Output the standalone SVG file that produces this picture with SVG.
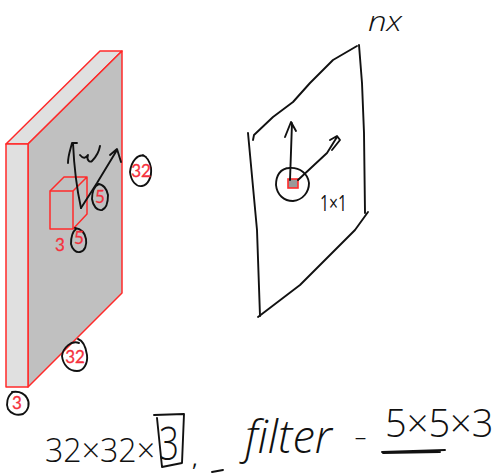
<svg xmlns="http://www.w3.org/2000/svg" width="495" height="473" viewBox="0 0 495 473">
<style>
.r{stroke:#ff2a2a;stroke-width:1.5;stroke-linejoin:round}
.ink{fill:none;stroke:#111;stroke-width:1.9;stroke-linecap:round;stroke-linejoin:round}
.lab{font-family:Lato,"Open Sans",sans-serif;font-size:17px;font-weight:400;fill:#f5303c;stroke:#f5303c;stroke-width:.3;text-anchor:middle}
.hand{font-family:"Open Sans","Liberation Sans",sans-serif;font-weight:300;fill:#111}
.reg{font-family:"Open Sans","Liberation Sans",sans-serif;font-weight:400;fill:#111}
.scr{font-family:"Open Sans","Liberation Sans",sans-serif;font-weight:300;font-style:italic;fill:#111}
</style>
<rect width="495" height="473" fill="#fff"/>
<g id="volume">
<polygon class="r" fill="#e0e0e0" points="6,144 28,144 122,51 100,51"/>
<polygon class="r" fill="#c0c0c0" points="28,144 122,51 122,293 28,387"/>
<rect class="r" x="6" y="144" width="22" height="243" fill="#e0e0e0"/>
</g>
<g id="filter-cube" fill="none">
<rect class="r" x="50" y="191" width="23" height="38"/>
<path class="r" d="M50 191L64 177H87L73 191M87 177V214L73 229"/>
</g>
<g id="output-sheet">
<path class="ink" d="M253 140L254 135L273 117L293 102L310 83L333 60L357 46"/>
<path class="ink" d="M359 45L362 83L364 133L365 213"/>
<path class="ink" d="M368 212L355 230L300 285L258 317"/>
<path class="ink" d="M248 133L257 230L260 316"/>
<path class="ink" d="M290 168C280 168 276 176 276 185C277 195 284 201 293 201C303 200 309 192 309 183C308 174 300 167 289 168"/>
<g id="output-cell">
<rect x="288" y="179" width="10" height="9" fill="#999" stroke="#ff2a2a" stroke-width="1.6"/>
</g>
<text class="reg" x="320" y="211" font-size="22" textLength="27" lengthAdjust="spacingAndGlyphs">1×1</text>
<text class="scr" x="368" y="31" font-size="27" textLength="34" lengthAdjust="spacingAndGlyphs">nx</text>
</g>
<g id="connectors">
<path class="ink" d="M81 208C77 190 74 165 73 143M68 163C68 155 71 148 72 143L77 143"/>
<path class="ink" d="M80 155C84 160 86 157 88 155C86 160 90 163 92 161C96 157 99 152 100 146"/>
<path class="ink" d="M81 208L97 183L117 150M110 155L117 149L121 162"/>
<path class="ink" d="M290 180L292 123M285 137L291 122L296 131"/>
<path class="ink" d="M298 180L327 153L337 137M330 140L337 136L340 140L332 150"/>
</g>
<g id="dim-32-side"><path class="ink" d="M146 157C138 152 131 162 130 172C131 181 136 187 142 186C148 185 152 177 151 168C150 162 147 157 143 155"/><text class="lab" x="141" y="177">32</text></g>
<g id="dim-5-height"><path class="ink" d="M99 184C94 186 92 193 92 199C93 206 97 211 102 210C107 208 108 201 108 195C107 189 103 184 98 184"/><text class="lab" x="100" y="203">5</text></g>
<g id="dim-5-width"><path class="ink" d="M76 229C72 232 71 239 71 244C72 249 76 253 80 252C85 251 87 245 86 239C85 233 82 229 75 228"/><text class="lab" x="79" y="244">5</text></g>
<g id="dim-3-depth"><text class="lab" x="60" y="251">3</text></g>
<g id="dim-32-bottom"><path class="ink" d="M79 343C71 340 63 348 62 356C63 365 69 371 77 371C84 371 88 363 87 355C86 348 84 341 78 339"/><text class="lab" x="75" y="363">32</text></g>
<g id="dim-3-front"><path class="ink" d="M13 392C7 396 6 404 8 409C11 414 17 416 23 414C29 410 30 403 27 398C24 393 18 391 12 392"/><text class="lab" x="17" y="409">3</text></g>
<g id="caption">
<text class="hand" x="45" y="462" font-size="33" textLength="110" lengthAdjust="spacingAndGlyphs">32×32×</text>
<text class="hand" x="159" y="460" font-size="46" textLength="20" lengthAdjust="spacingAndGlyphs">3</text>
<path class="ink" d="M154 415L184 414L182 463L162 467L157 418"/>
<text class="reg" x="192" y="466" font-size="22">,</text>
<path class="ink" d="M212 472L223 470"/>
<text class="scr" x="245" y="453" font-size="46" textLength="87" lengthAdjust="spacingAndGlyphs">filter</text>
<text class="hand" x="354" y="447" font-size="30" textLength="13" lengthAdjust="spacingAndGlyphs">-</text>
<text class="hand" x="385" y="437" font-size="38">5×5×3</text>
<path class="ink" stroke-width="2.400" d="M382 452L445 450M383 453L440 452"/>
</g>
</svg>
